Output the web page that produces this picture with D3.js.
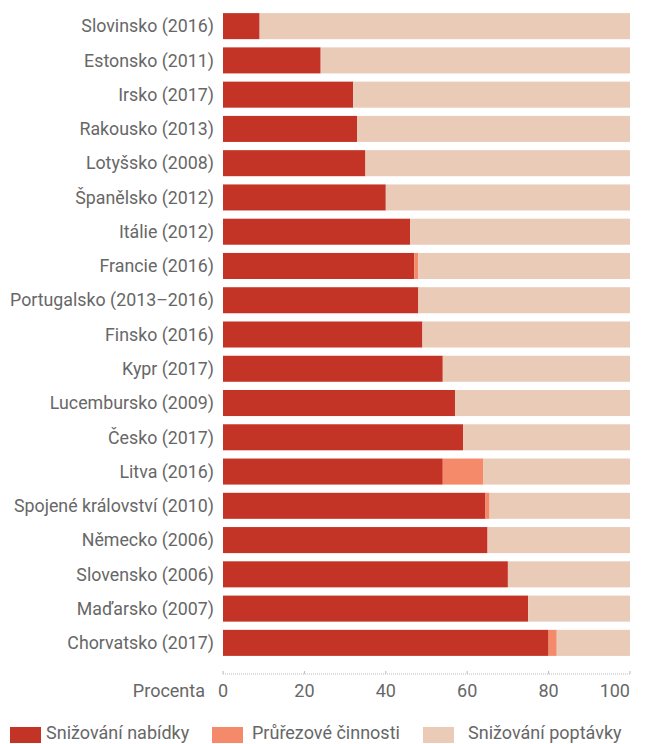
<!DOCTYPE html>
<html>
<head>
<meta charset="utf-8">
<script src="https://cdn.jsdelivr.net/npm/d3@7"></script>
<style>
  body { margin: 0; background: #fff; }
  text { font-family: "Roboto", sans-serif; fill: #676767; }
</style>
</head>
<body>
<div id="chart"></div>
<script>
const countries = ["Slovinsko (2016)", "Estonsko (2011)", "Irsko (2017)", "Rakousko (2013)",
  "Lotyšsko (2008)", "Španělsko (2012)", "Itálie (2012)", "Francie (2016)",
  "Portugalsko (2013–2016)", "Finsko (2016)", "Kypr (2017)", "Lucembursko (2009)",
  "Česko (2017)", "Litva (2016)", "Spojené království (2010)", "Německo (2006)",
  "Slovensko (2006)", "Maďarsko (2007)", "Chorvatsko (2017)"];
const supply =     [9, 24, 32, 33, 35, 40, 46, 47, 48, 49, 54, 57, 59, 54, 64.5, 65, 70, 75, 80];
const crossCut =   [0, 0, 0, 0, 0, 0, 0, 1, 0, 0, 0, 0, 0, 10, 1, 0, 0, 0, 2];
const seriesNames = ["Snižování nabídky", "Průřezové činnosti", "Snižování poptávky"];
const colors = ["#c43426", "#f58a6a", "#eacbb8"];
const ticks = [0, 20, 40, 60, 80, 100];

const width = 648, height = 744;
const svg = d3.select("#chart").append("svg")
  .attr("width", width).attr("height", height);

const x = d3.scaleLinear().domain([0, 100]).range([223, 630]);
const y = d3.scaleBand().domain(countries).range([9, 660]).paddingInner(0.24).paddingOuter(0.12);

const rows = countries.map((c, i) => ({
  name: c,
  vals: [supply[i], crossCut[i], 100 - supply[i] - crossCut[i]]
}));
const stacked = d3.stack().keys([0, 1, 2]).value((d, k) => d.vals[k])(rows);

svg.append("g")
  .selectAll("g")
  .data(stacked)
  .join("g")
  .attr("fill", (d, i) => colors[i])
  .selectAll("rect")
  .data(d => d)
  .join("rect")
  .attr("x", d => x(d[0]))
  .attr("width", d => x(d[1]) - x(d[0]))
  .attr("y", d => y(d.data.name))
  .attr("height", y.bandwidth());

svg.append("g")
  .selectAll("text")
  .data(countries)
  .join("text")
  .attr("x", 214)
  .attr("y", d => y(d) + y.bandwidth() / 2)
  .attr("dy", "0.35em")
  .attr("text-anchor", "end")
  .attr("font-size", 17.8)
  .text(d => d);

// axis
const axisY = 674;
svg.append("line")
  .attr("x1", x(0)).attr("x2", x(100))
  .attr("y1", axisY).attr("y2", axisY)
  .attr("stroke", "#bbb").attr("stroke-dasharray", "1,1");
svg.append("g")
  .selectAll("line")
  .data(ticks)
  .join("line")
  .attr("x1", d => x(d)).attr("x2", d => x(d))
  .attr("y1", axisY - 3).attr("y2", axisY)
  .attr("stroke", "#bbb");
svg.append("g")
  .selectAll("text")
  .data(ticks)
  .join("text")
  .attr("x", d => x(d))
  .attr("y", 691)
  .attr("dy", "0.35em")
  .attr("text-anchor", (d, i) => i === ticks.length - 1 ? "end" : "middle")
  .attr("font-size", 18)
  .text(d => d);
svg.append("text")
  .attr("x", 205).attr("y", 691).attr("dy", "0.35em")
  .attr("text-anchor", "end").attr("font-size", 18)
  .text("Procenta");

// legend
const legendX = [10, 212, 423];
const legendTextX = [36, 40, 45];
const legend = svg.append("g")
  .selectAll("g")
  .data(seriesNames)
  .join("g")
  .attr("transform", (d, i) => `translate(${legendX[i]},727)`);
legend.append("rect")
  .attr("width", 31)
  .attr("height", 16)
  .attr("fill", (d, i) => colors[i]);
legend.append("text")
  .attr("x", (d, i) => legendTextX[i])
  .attr("y", 6).attr("dy", "0.35em")
  .attr("font-size", 18)
  .text(d => d);
</script>
</body>
</html>
